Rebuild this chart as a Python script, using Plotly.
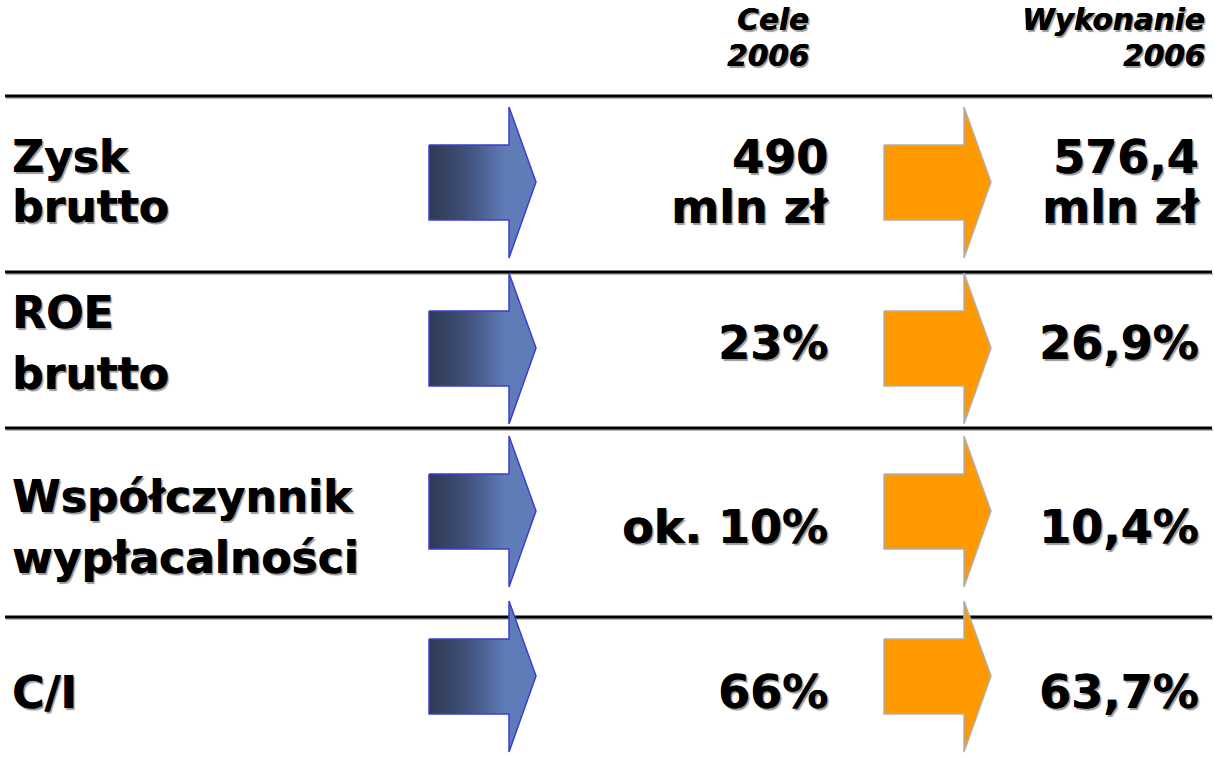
import plotly.graph_objects as go

# ---- data ----
header_target = ["Cele", "2006"]
header_actual = ["Wykonanie", "2006"]
label_lines = [["Zysk", "brutto"], ["ROE", "brutto"], ["Współczynnik", "wypłacalności"], ["C/I"]]
target_lines = [["490", "mln zł"], ["23%"], ["ok. 10%"], ["66%"]]
actual_lines = [["576,4", "mln zł"], ["26,9%"], ["10,4%"], ["63,7%"]]

# ---- layout constants (pixel space) ----
W, H = 1215, 757
row_center = [182, 348, 511, 676]
label_line_y = [[156, 206], [312, 373], [496, 557], [692]]
value_line_y = [[157, 207], [343], [527], [692]]
header_y = [19.5, 56]
sep_y = [96, 272, 428, 617]
FONT = "DejaVu Sans"
FS_LABEL = 44
FS_VALUE = 46
FS_HEAD = 29.5
SHADOW = "0.6px 0 0 #000, 2px 2px 1px #9a9a9a"

fig = go.Figure()

def arrow_xy(x0, xn, xt, yc):
    bt, bb = yc - 37, yc + 38
    ht, hb = yc - 75, yc + 76
    xs = [x0, xn, xn, xt, xn, xn, x0, x0]
    ys = [bt, bt, ht, yc, hb, bb, bb, bt]
    return xs, ys

for yc in row_center:
    xs, ys = arrow_xy(429, 509, 536, yc)
    fig.add_trace(go.Scatter(
        x=xs, y=ys, mode="lines", fill="toself",
        line=dict(color="#3d3dd0", width=1.5),
        fillgradient=dict(type="horizontal", start=429, stop=505,
                          colorscale=[[0, "#2e3953"], [0.5, "#40507a"], [1, "#5f7cb8"]]),
        hoverinfo="skip", showlegend=False))
    xs, ys = arrow_xy(884, 964, 991, yc)
    fig.add_trace(go.Scatter(
        x=xs, y=ys, mode="lines", fill="toself",
        line=dict(color="#b0b0b0", width=1.5),
        fillcolor="#ff9900",
        hoverinfo="skip", showlegend=False))

shapes = []
for y in sep_y:
    shapes.append(dict(type="line", x0=6, x1=1213, y0=y + 2, y1=y + 2,
                       line=dict(color="#b8b8b8", width=2), layer="below"))
    shapes.append(dict(type="line", x0=5, x1=1212, y0=y, y1=y,
                       line=dict(color="#000000", width=3), layer="below"))

ann = []
def txt(x, y, s, anchor, size, style="normal"):
    ann.append(dict(x=x, y=y, xref="x", yref="y", text=s, showarrow=False,
                    xanchor=anchor, yanchor="middle", borderpad=0,
                    font=dict(family=FONT, size=size, color="black", weight="bold",
                              style=style, shadow=SHADOW)))

for t, y in zip(header_target, header_y):
    txt(810, y, t, "right", FS_HEAD, style="italic")
for t, y in zip(header_actual, header_y):
    txt(1206, y, t, "right", FS_HEAD, style="italic")

for r in range(4):
    for t, y in zip(label_lines[r], label_line_y[r]):
        txt(11, y, t, "left", FS_LABEL)
    for t, y in zip(target_lines[r], value_line_y[r]):
        txt(829, y, t, "right", FS_VALUE)
    for t, y in zip(actual_lines[r], value_line_y[r]):
        txt(1200, y, t, "right", FS_VALUE)

fig.update_layout(
    width=W, height=H, margin=dict(l=0, r=0, t=0, b=0),
    paper_bgcolor="white", plot_bgcolor="white",
    xaxis=dict(range=[0, W], visible=False, fixedrange=True),
    yaxis=dict(range=[H, 0], visible=False, fixedrange=True),
    shapes=shapes, annotations=ann, showlegend=False)

fig.write_html("out.html")
